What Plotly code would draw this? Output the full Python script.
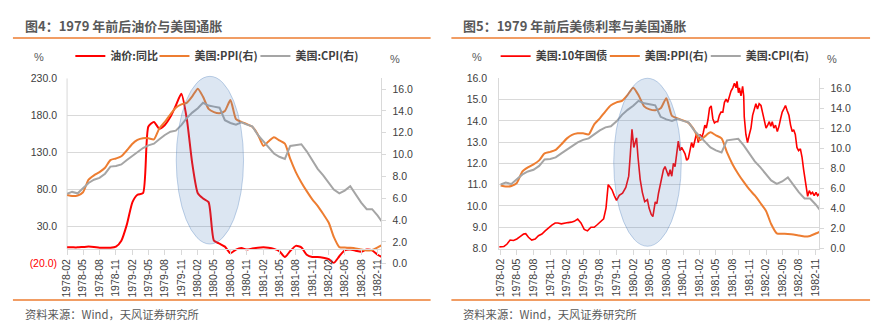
import plotly.graph_objects as go
import pandas as pd

W, H = 877, 330


def px_x(p):
    return p / W


def px_y(p):
    return 1 - p / H


# ---------------- data ----------------
months = pd.date_range("1978-02-01", "1982-12-01", freq="MS")  # 59 monthly categories
tick_dates = list(months[::3])  # 1978-02 ... 1982-11
tick_text = [d.strftime("%Y-%m") for d in tick_dates]

oil_yoy = [2, 2, 2, 2.5, 3, 2.5, 1.5, 1.5, 1.5, 3,
           11, 33, 63, 73, 75, 165, 171, 162, 167, 178,
           193, 209, 176, 115, 75, 68, 63, 11, 7, 3,
           -6, -1, 1, -1, 0.5, 1.5, 2, 1.5, 0, -3,
           -11, -3, 4, 2, -8, -11, -11, -12, -14, -19,
           -10, -2, -1, -2.5, -4, -1, -2, -8, -12]

us_ppi = [6.3, 6.2, 6.25, 6.55, 7.7, 8.1, 8.4, 8.8, 9.5, 9.65,
          9.85, 10.4, 11.0, 11.35, 11.5, 11.5, 11.4, 12.4, 13.0, 13.7,
          14.3, 14.6, 14.75, 15.35, 16.05, 15.3, 14.2, 13.9, 13.8, 14.0,
          15.0, 13.25, 13.0, 12.8, 12.55, 11.85, 10.8, 11.2, 11.6, 11.3,
          11.0, 9.6, 8.4, 7.45, 6.65, 5.9, 5.3, 4.55, 3.75, 2.45,
          1.52, 1.48, 1.45, 1.4, 1.3, 1.2, 1.26, 1.5, 1.75]

us_cpi = [6.4, 6.58, 6.45, 6.88, 7.4, 7.7, 7.87, 8.25, 8.9, 8.95,
          9.1, 9.5, 9.9, 10.2, 10.6, 10.85, 11.0, 11.4, 11.8, 12.1,
          12.2, 12.7, 13.35, 13.85, 14.25, 14.75, 14.5, 14.4, 14.3, 13.15,
          12.9, 12.75, 12.95, 12.75, 12.6, 11.8, 11.2, 10.6, 10.1, 9.8,
          9.6, 10.8, 10.9, 10.95, 10.3, 9.5, 8.7, 8.1, 7.4, 6.8,
          6.45, 6.7, 7.1, 6.4, 5.6, 5.0, 5.0, 4.4, 3.7]

bond_dates = [
    "1978-01-24", "1978-02-19", "1978-03-07", "1978-03-25", "1978-04-13", "1978-05-01",
    "1978-05-19", "1978-06-07", "1978-06-19", "1978-07-04", "1978-07-22", "1978-08-10",
    "1978-08-28", "1978-09-16", "1978-10-04", "1978-10-22", "1978-11-10", "1978-11-28",
    "1978-12-13", "1979-01-01", "1979-01-19", "1979-02-07", "1979-02-25", "1979-03-13",
    "1979-04-01", "1979-04-19", "1979-05-07", "1979-05-25", "1979-06-13", "1979-07-01",
    "1979-07-19", "1979-08-07", "1979-08-22", "1979-09-04", "1979-09-16", "1979-09-25",
    "1979-10-07", "1979-10-19", "1979-11-01", "1979-11-16", "1979-12-04", "1979-12-22",
    "1980-01-07", "1980-01-16", "1980-01-25", "1980-02-04", "1980-02-13", "1980-02-19",
    "1980-02-27", "1980-03-10", "1980-03-22", "1980-04-04", "1980-04-19", "1980-04-28",
    "1980-05-10", "1980-05-19",
    "1980-06-01", "1980-06-10", "1980-06-19", "1980-06-28", "1980-07-07", "1980-07-16",
    "1980-07-25", "1980-08-04", "1980-08-13", "1980-08-22", "1980-08-31", "1980-09-09",
    "1980-09-18", "1980-09-27", "1980-10-06", "1980-10-15", "1980-10-24", "1980-11-03",
    "1980-11-12", "1980-11-21", "1980-11-30", "1980-12-09", "1980-12-18", "1980-12-27",
    "1981-01-06", "1981-01-15", "1981-01-24", "1981-02-02", "1981-02-11", "1981-02-20",
    "1981-03-01", "1981-03-09", "1981-03-18", "1981-03-27", "1981-04-05", "1981-04-14",
    "1981-04-23", "1981-05-02", "1981-05-11", "1981-05-20", "1981-05-29", "1981-06-08",
    "1981-06-17", "1981-06-26", "1981-07-05", "1981-07-14", "1981-07-23", "1981-08-02",
    "1981-08-11", "1981-08-20", "1981-08-25", "1981-09-02", "1981-09-07", "1981-09-16",
    "1981-09-25", "1981-10-01", "1981-10-04", "1981-10-13", "1981-10-22", "1981-11-01",
    "1981-11-10", "1981-11-19", "1981-11-28", "1981-12-07", "1981-12-16", "1981-12-25",
    "1982-01-04", "1982-01-13", "1982-01-22", "1982-02-01", "1982-02-10", "1982-02-19",
    "1982-02-27", "1982-03-07", "1982-03-16", "1982-03-25", "1982-04-04", "1982-04-13",
    "1982-04-22", "1982-05-01", "1982-05-10", "1982-05-19", "1982-05-28", "1982-06-07",
    "1982-06-16", "1982-06-25", "1982-07-03", "1982-07-12", "1982-07-21", "1982-07-30",
    "1982-08-09", "1982-08-18", "1982-08-27", "1982-09-06", "1982-09-15", "1982-09-18",
    "1982-09-27", "1982-10-06", "1982-10-15", "1982-10-24", "1982-11-03", "1982-11-12",
    "1982-11-21", "1982-12-01",
]
bond_10y = [
    8.08, 8.1, 8.2, 8.4, 8.38, 8.45,
    8.56, 8.68, 8.7, 8.53, 8.4, 8.45,
    8.6, 8.68, 8.83, 8.98, 9.1, 9.2,
    9.2, 9.16, 9.2, 9.22, 9.24, 9.28,
    9.39, 9.2, 8.9, 8.83, 9.0, 9.0,
    9.13, 9.3, 9.4, 9.9, 11.0, 10.9,
    10.76, 10.5, 10.26, 10.5, 10.6, 10.87,
    11.4, 12.45, 13.6, 12.75, 13.05, 13.2,
    12.3, 11.25, 10.64, 10.2, 10.3, 9.9,
    9.6, 9.5,
    10.19, 10.11, 10.6, 10.94, 11.25, 11.7,
    11.85, 11.55, 11.4, 11.7, 11.4, 12.0,
    11.85, 12.45, 13.05, 12.6, 12.75, 12.6,
    12.45, 12.15, 12.23, 12.6, 12.98, 12.75,
    13.2, 13.43, 12.98, 13.36, 13.2, 13.43,
    13.8, 13.66, 14.04, 14.6, 14.7, 14.1,
    13.9, 13.96, 13.96, 14.26, 14.41, 14.41,
    14.87, 15.02, 14.87, 15.17, 15.4, 15.55,
    15.77, 15.55, 15.85, 15.32, 15.55, 15.17,
    15.62, 15.17, 14.19, 13.36, 12.98, 13.36,
    13.66, 14.26, 14.56, 14.8, 14.56, 14.8,
    14.72, 14.41, 13.96, 13.66, 13.8, 13.96,
    13.74, 13.96, 13.66, 13.8, 13.5, 13.74,
    14.1, 14.41, 14.56, 14.72, 14.49, 14.26,
    13.8, 13.5, 13.58, 13.36, 12.75, 12.6,
    12.68, 12.3, 11.7, 11.1, 10.6, 10.45,
    10.72, 10.57, 10.64, 10.49, 10.64, 10.49,
    10.57, 10.26,
]

left_ticks = [-20, 30, 80, 130, 180, 230]
left_tick_text = ['<span style="color:#FF0000">(20.0)</span>', "30.0", "80.0", "130.0", "180.0", "230.0"]
left_grid = [30, 80, 130, 180, 230]
right_ticks = [0, 2, 4, 6, 8, 10, 12, 14, 16]
right_tick_text = ["%.1f" % v for v in right_ticks]
bond_ticks = [8, 9, 10, 11, 12, 13, 14, 15, 16]
bond_tick_text = ["%.1f" % v for v in bond_ticks]

# ---------------- styling ----------------
RED = "#FF0000"
ORANGE = "#ED7D31"
GRAY = "#A5A5A5"
GRID = "#D9D9D9"
TXT = "#404040"
NUM_FONT = "Liberation Sans, Arial, sans-serif"
CJK_FONT = "Noto Sans CJK SC, sans-serif"

fig = go.Figure()

# left chart
fig.add_trace(go.Scatter(x=months, y=oil_yoy, name="油价:同比", mode="lines",
                         line=dict(color=RED, width=2, shape="spline", smoothing=0.6),
                         xaxis="x", yaxis="y", legend="legend"))
fig.add_trace(go.Scatter(x=months, y=us_ppi, name="美国:PPI(右)", mode="lines",
                         line=dict(color=ORANGE, width=2, shape="spline", smoothing=0.6),
                         xaxis="x", yaxis="y2", legend="legend2"))
fig.add_trace(go.Scatter(x=months, y=us_cpi, name="美国:CPI(右)", mode="lines",
                         line=dict(color=GRAY, width=2),
                         xaxis="x", yaxis="y2", legend="legend3"))
fig.add_trace(go.Scatter(x=[], y=[], showlegend=False, xaxis="x", yaxis="y3"))

# right chart
fig.add_trace(go.Scatter(x=bond_dates, y=bond_10y, name="美国:10年国债", mode="lines",
                         line=dict(color=RED, width=1.6),
                         xaxis="x2", yaxis="y4", legend="legend4"))
fig.add_trace(go.Scatter(x=months, y=us_ppi, name="美国:PPI(右)", mode="lines",
                         line=dict(color=ORANGE, width=2, shape="spline", smoothing=0.6),
                         xaxis="x2", yaxis="y5", legend="legend5"))
fig.add_trace(go.Scatter(x=months, y=us_cpi, name="美国:CPI(右)", mode="lines",
                         line=dict(color=GRAY, width=2),
                         xaxis="x2", yaxis="y5", legend="legend6"))

tickfont = dict(family=NUM_FONT, size=10.5, color=TXT)

L_DOM_X = [px_x(60.7), px_x(378.3)]
L_DOM_Y = [px_y(267.4), px_y(75)]
R_DOM_X = [px_x(497.3), px_x(820.7)]
R_DOM_Y = [px_y(251.7), px_y(75)]

xcommon = dict(type="date", tickmode="array", tickvals=tick_dates, ticktext=tick_text,
               tickangle=-90, ticks="outside", ticklen=5, tickcolor=GRID, tickwidth=1,
               showline=True, linecolor=GRID, linewidth=1, showgrid=False, zeroline=False,
               tickfont=tickfont, fixedrange=True)


def legend_at(xpix):
    return dict(orientation="h", x=px_x(xpix), y=px_y(52), xanchor="left", yanchor="middle",
                font=dict(family=CJK_FONT, size=11, color=TXT, weight="bold"),
                bgcolor="rgba(0,0,0,0)", itemwidth=30)


fig.update_layout(
    width=W, height=H,
    margin=dict(l=0, r=0, t=0, b=0),
    paper_bgcolor="white", plot_bgcolor="white",
    showlegend=True,
    xaxis=dict(domain=L_DOM_X, anchor="free", position=px_y(252.0),
               range=["1978-02-01", "1982-11-22"], **xcommon),
    yaxis=dict(domain=L_DOM_Y, anchor="x", range=[-20, 230], tickmode="array",
               tickvals=left_ticks, ticktext=left_tick_text, showgrid=False,
               zeroline=False, showline=False, ticks="", ticklabelstandoff=9,
               tickfont=tickfont),
    yaxis2=dict(overlaying="y", side="right", anchor="x", range=[0, 17.0],
                tickmode="array", tickvals=right_ticks, ticktext=right_tick_text,
                showgrid=False, zeroline=False, showline=True, linecolor=GRID,
                ticks="outside", ticklen=4, tickcolor=GRID, ticklabelstandoff=4,
                tickfont=tickfont),
    yaxis3=dict(overlaying="y", anchor="x", range=[-20, 230], tickmode="array",
                tickvals=left_grid, showticklabels=False, showgrid=True,
                gridcolor=GRID, gridwidth=1, zeroline=False, showline=False, ticks=""),
    xaxis2=dict(domain=R_DOM_X, anchor="y4",
                range=["1978-01-24", "1982-11-21"], **xcommon),
    yaxis4=dict(domain=R_DOM_Y, anchor="x2", range=[8, 16], tickmode="array",
                tickvals=bond_ticks, ticktext=bond_tick_text, showgrid=True,
                gridcolor=GRID, zeroline=False, showline=True, linecolor=GRID,
                ticks="", ticklabelstandoff=9, tickfont=tickfont),
    yaxis5=dict(overlaying="y4", side="right", anchor="x2", range=[0, 17.0],
                tickmode="array", tickvals=right_ticks, ticktext=right_tick_text,
                showgrid=False, zeroline=False, showline=True, linecolor=GRID,
                ticks="outside", ticklen=4, tickcolor=GRID, ticklabelstandoff=4,
                tickfont=tickfont),
    legend=legend_at(64),
    legend2=legend_at(149),
    legend3=legend_at(251),
    legend4=legend_at(493.7),
    legend5=legend_at(604),
    legend6=legend_at(706),
)

shapes = []
# left axis line of the left chart runs from 0 up to the top
shapes.append(dict(type="line", xref="x domain", x0=0, x1=0, yref="y", y0=0, y1=230,
                   line=dict(color=GRID, width=1), layer="below"))
# orange rules
for (a, b) in [(6, 428), (449, 872)]:
    for yy in (33.3, 305):
        shapes.append(dict(type="line", xref="paper", yref="paper",
                           x0=px_x(a), x1=px_x(b), y0=px_y(yy), y1=px_y(yy),
                           line=dict(color=ORANGE, width=1.5)))
# highlight ellipses
for (x0, x1, y0, y1) in [(171, 239, 73, 247), (613, 681.3, 75, 249.3)]:
    shapes.append(dict(type="circle", xref="paper", yref="paper",
                       x0=px_x(x0), x1=px_x(x1), y0=px_y(y1), y1=px_y(y0),
                       fillcolor="rgba(79,129,189,0.2)",
                       line=dict(color="rgba(79,129,189,0.35)", width=1),
                       layer="above"))
fig.update_layout(shapes=shapes)

ann = []
for xx, t in [(15.7, "图4：1979 年前后油价与美国通胀"), (458.7, "图5：1979 年前后美债利率与美国通胀")]:
    ann.append(dict(text="<b>%s</b>" % t, x=px_x(xx), y=px_y(20), xref="paper", yref="paper",
                    xanchor="left", yanchor="middle", showarrow=False,
                    font=dict(family=CJK_FONT, size=13, color="#595959")))
for xx in (15.7, 458.7):
    ann.append(dict(text="资料来源：Wind，天风证券研究所", x=px_x(xx), y=px_y(320),
                    xref="paper", yref="paper", xanchor="left", yanchor="middle",
                    showarrow=False, font=dict(family=CJK_FONT, size=11.3, color="#595959")))
for xx, yy in [(32, 53), (391.7, 55), (475, 53), (833.7, 55)]:
    ann.append(dict(text="%", x=px_x(xx), y=px_y(yy), xref="paper", yref="paper",
                    xanchor="center", yanchor="middle", showarrow=False,
                    font=dict(family=NUM_FONT, size=11, color="#595959")))
fig.update_layout(annotations=ann)

fig.write_html("out.html")
